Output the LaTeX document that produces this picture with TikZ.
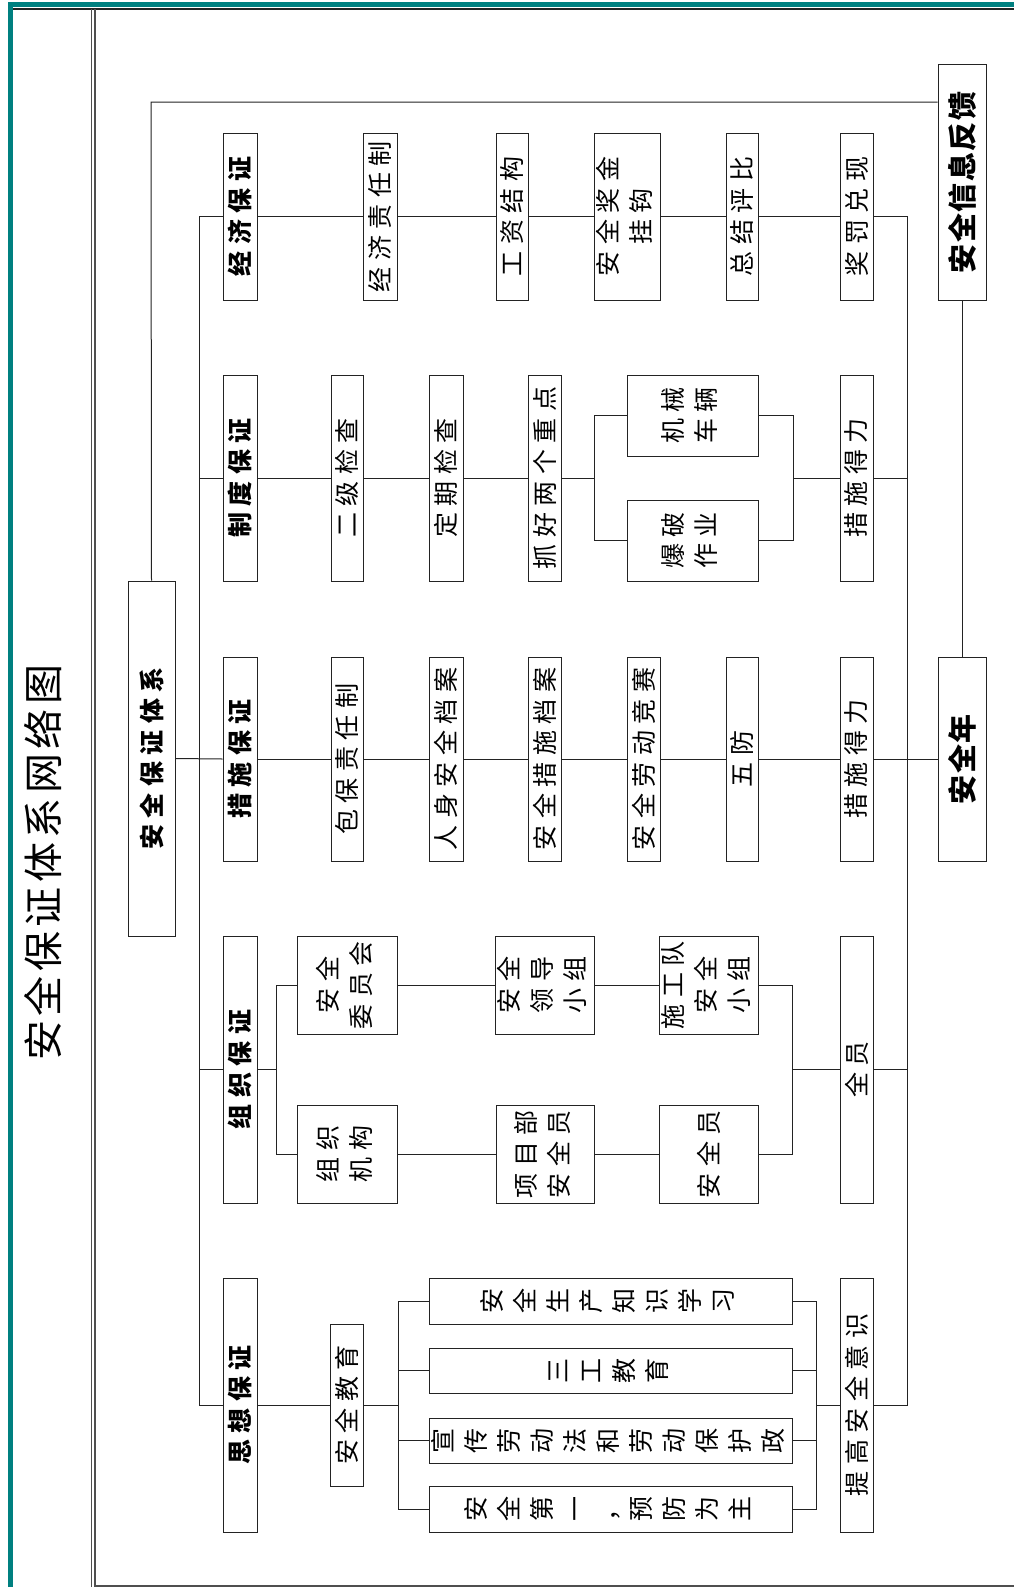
\documentclass[tikz,border=0pt]{standalone}
\usepackage{fontspec}
\usepackage{graphicx}
\newfontfamily\cjk{Noto Sans CJK SC}
\definecolor{tealc}{RGB}{0,128,128}
\definecolor{linec}{RGB}{35,35,35}
\newdimen\cg \cg=6.5pt
\def\gp#1{\gpA#1\gpEnd}
\def\gpA#1#2\gpEnd{#1\ifx\relax#2\relax\else\hskip\cg\gpA#2\gpEnd\fi}
\newcommand\rt[1]{\rotatebox{90}{\gp{#1}}}
\newcommand\rtb[1]{\rotatebox{90}{\cg=1.5pt\relax\gp{#1}}}
\newcommand\rtm[1]{\rotatebox{90}{\begin{tabular}{@{}c@{}}#1\end{tabular}}}
\tikzset{
  box/.style={draw=linec, line width=1pt, inner sep=0pt, font=\cjk\fontsize{25}{33}\selectfont},
  hd/.style={box, font=\cjk\bfseries\fontsize{25}{33}\selectfont},
  hdb/.style={box, font=\cjk\bfseries\fontsize{29}{33}\selectfont},
  wire/.style={draw=linec, line width=1pt}
}
\newcommand\bx[7][box]{\node[#1, minimum width={(#4-#3)*1pt}, minimum height={(#6-#5)*1pt}] (#2) at ({(#3+#4)/2},{(#5+#6)/2}) {#7};}
\begin{document}
\begin{tikzpicture}[x=1pt,y=-1pt]
\useasboundingbox (0,0) rectangle (1014,1587);
\fill[white] (0,0) rectangle (1014,1587);
% frame
\fill[tealc] (8,2) rectangle (13,1587);
\fill[tealc] (8,2) rectangle (1014,7);
\draw[linec, line width=1.5pt] (13,8.8) -- (1014,8.8);
\draw[linec!80, line width=1.1pt] (91.5,8.8) -- (91.5,1587);
\draw[linec!80, line width=1.1pt] (95,8.8) -- (95,1587);
\draw[linec!80, line width=1.2pt] (95,1586) -- (1014,1586);
% title
\node[font=\cjk\fontsize{40}{44}\selectfont] (title) at (43.5,862.5) {\rotatebox{90}{\cg=4.5pt\relax\gp{安全保证体系网络图}}};
% row 1
\bx[hd]{jjbz}{223}{257}{133}{300}{\rt{经济保证}}
\bx{jjzr}{363}{397}{133}{300}{\rt{经济责任制}}
\bx{gzjg}{496}{528}{133}{300}{\rt{工资结构}}
\bx{jjgg}{594}{660}{133}{300}{\rtm{\gp{安全奖金}\\\gp{挂钩}}}
\bx{zjpb}{726}{758}{133}{300}{\rt{总结评比}}
\bx{jfdx}{840}{873}{133}{300}{\rt{奖罚兑现}}
\bx[hdb]{xxfk}{938}{986}{65}{300}{\rtb{安全信息反馈}}
% row 2
\bx[hd]{zdbz}{223}{257}{375}{581}{\rt{制度保证}}
\bx{ejjc}{331}{363}{375}{581}{\rt{二级检查}}
\bx{dqjc}{429}{463}{375}{581}{\rt{定期检查}}
\bx{zhlg}{528}{561}{375}{581}{\rt{抓好两个重点}}
\bx{jxcl}{627}{758}{375}{456}{\rtm{\gp{机械}\\\gp{车辆}}}
\bx{bpzy}{627}{758}{500}{581}{\rtm{\gp{爆破}\\\gp{作业}}}
\bx{cslrb}{840}{873}{375}{581}{\rt{措施得力}}
% system box
\bx[hd]{aqbztx}{128}{175}{581}{936}{\rt{安全保证体系}}
% row 3
\bx[hd]{csbz}{223}{257}{657}{861}{\rt{措施保证}}
\bx{bbzr}{331}{363}{657}{861}{\rt{包保责任制}}
\bx{rsda}{429}{463}{657}{861}{\rt{人身安全档案}}
\bx{csda}{528}{561}{657}{861}{\rt{安全措施档案}}
\bx{ldjs}{627}{660}{657}{861}{\rt{安全劳动竞赛}}
\bx{wf}{726}{758}{657}{861}{\rt{五防}}
\bx{cslrc}{840}{873}{657}{861}{\rt{措施得力}}
\bx[hdb]{aqn}{938}{986}{657}{861}{\rtb{安全年}}
% row 4
\bx[hd]{zzbz}{223}{257}{936}{1203}{\rt{组织保证}}
\bx{aqwy}{297}{397}{936}{1034}{\rtm{\gp{安全}\\\gp{委员会}}}
\bx{zzjg}{297}{397}{1105}{1203}{\rtm{\gp{组织}\\\gp{机构}}}
\bx{aqld}{496}{594}{936}{1034}{\rtm{\gp{安全}\\\gp{领导}\\\gp{小组}}}
\bx{xmb}{496}{594}{1105}{1203}{\rtm{\gp{项目部}\\\gp{安全员}}}
\bx{sgd}{659}{758}{936}{1034}{\rtm{\gp{施工队}\\\gp{安全}\\\gp{小组}}}
\bx{aqy}{659}{758}{1105}{1203}{\rt{安全员}}
\bx{qy}{840}{873}{936}{1203}{\rt{全员}}
% row 5
\bx[hd]{sxbz}{223}{257}{1278}{1532}{\rt{思想保证}}
\bx{aqjy}{330}{363}{1324}{1486}{\rt{安全教育}}
\bx{ba}{429}{792}{1278}{1324}{\rtm{安\\全\\生\\产\\知\\识\\学\\习}}
\bx{bb}{429}{792}{1348}{1393}{\rtm{三\\工\\教\\育}}
\bx{bc}{429}{792}{1418}{1463}{\rtm{宣\\传\\劳\\动\\法\\和\\劳\\动\\保\\护\\政}}
\bx{bd}{429}{792}{1486}{1532}{\rtm{安\\全\\第\\一\\，\\预\\防\\为\\主}}
\bx{tgys}{840}{873}{1278}{1532}{\rt{提高安全意识}}
% bus coordinates
\coordinate (topbus) at (151,102);
\coordinate (bB) at (199,0);
\coordinate (bC) at (907,0);
\coordinate (f2) at (594,0);
\coordinate (j2) at (793,0);
\coordinate (f4) at (276,0);
\coordinate (j4) at (792,0);
\coordinate (f5) at (398,0);
\coordinate (j5) at (816,0);
% top feedback loop
\draw[wire] (aqbztx.north) -- (topbus) -- (topbus -| xxfk.west);
\draw[wire] (xxfk.south) -- (aqn.north);
% left bus
\draw[wire] (jjbz.west) -- (jjbz.west -| bB) -- (sxbz.west -| bB) -- (sxbz.west);
\foreach \n in {zdbz,zzbz} \draw[wire] (\n.west) -- (\n.west -| bB);
\draw[wire] (aqbztx.east) -- (csbz.west);
% right bus
\draw[wire] (jfdx.east) -- (jfdx.east -| bC) -- (tgys.east -| bC) -- (tgys.east);
\foreach \n in {cslrb,qy} \draw[wire] (\n.east) -- (\n.east -| bC);
% chains
\foreach \a/\b in {jjbz/jjzr,jjzr/gzjg,gzjg/jjgg,jjgg/zjpb,zjpb/jfdx,
  zdbz/ejjc,ejjc/dqjc,dqjc/zhlg,
  csbz/bbzr,bbzr/rsda,rsda/csda,csda/ldjs,ldjs/wf,wf/cslrc,cslrc/aqn,
  aqwy/aqld,aqld/sgd,zzjg/xmb,xmb/aqy,
  sxbz/aqjy}
  \draw[wire] (\a.east) -- (\b.west);
% row 2 fork / join
\draw[wire] (zhlg.east) -- (zhlg.east -| f2);
\draw[wire] (jxcl.west) -- (jxcl.west -| f2) -- (bpzy.west -| f2) -- (bpzy.west);
\draw[wire] (jxcl.east) -- (jxcl.east -| j2) -- (bpzy.east -| j2) -- (bpzy.east);
\draw[wire] (cslrb.west) -- (cslrb.west -| j2);
% row 4 fork / join
\draw[wire] (zzbz.east) -- (zzbz.east -| f4);
\draw[wire] (aqwy.west) -- (aqwy.west -| f4) -- (zzjg.west -| f4) -- (zzjg.west);
\draw[wire] (sgd.east) -- (sgd.east -| j4) -- (aqy.east -| j4) -- (aqy.east);
\draw[wire] (qy.west) -- (qy.west -| j4);
% row 5 fork / join
\draw[wire] (aqjy.east) -- (aqjy.east -| f5);
\draw[wire] (ba.west) -- (ba.west -| f5) -- (bd.west -| f5) -- (bd.west);
\foreach \n in {bb,bc} \draw[wire] (\n.west) -- (\n.west -| f5);
\draw[wire] (ba.east) -- (ba.east -| j5) -- (bd.east -| j5) -- (bd.east);
\foreach \n in {bb,bc} \draw[wire] (\n.east) -- (\n.east -| j5);
\draw[wire] (tgys.west) -- (tgys.west -| j5);
\end{tikzpicture}
\end{document}
